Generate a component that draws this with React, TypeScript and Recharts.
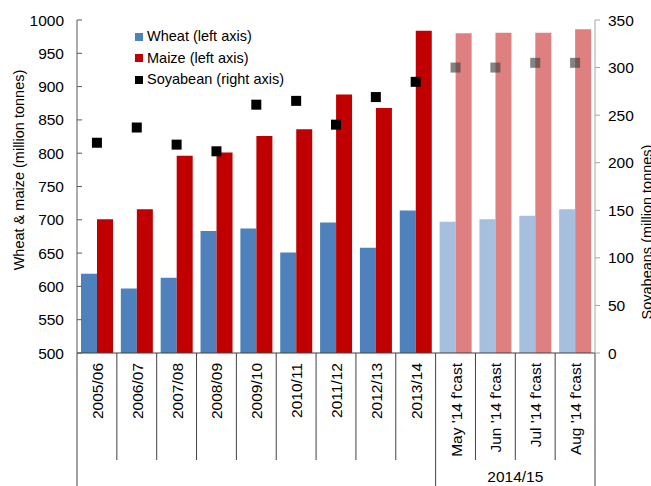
import React from 'react';
import { ComposedChart, Bar, Scatter, XAxis, YAxis, Cell } from 'recharts';

const categories = [
  '2005/06', '2006/07', '2007/08', '2008/09', '2009/10', '2010/11', '2011/12',
  '2012/13', '2013/14', "May '14 f'cast", "Jun '14 f'cast", "Jul '14 f'cast", "Aug '14 f'cast",
];
const wheat = [619, 597, 613, 683, 687, 651, 696, 658, 714, 697, 701, 706, 716];
const maize = [701, 716, 796, 801, 826, 836, 888, 868, 984, 980, 981, 981, 986];
const soyabean = [221, 237, 219, 212, 261, 265, 240, 269, 285, 300, 300, 305, 305];
const forecast = [false, false, false, false, false, false, false, false, false, true, true, true, true];
const forecastGroupLabel = '2014/15';
const leftTicks = [500, 550, 600, 650, 700, 750, 800, 850, 900, 950, 1000];
const rightTicks = [0, 50, 100, 150, 200, 250, 300, 350];

const rows = categories.map((category, i) => ({
  category,
  wheat: wheat[i],
  maize: maize[i],
  soy: soyabean[i],
  forecast: forecast[i],
}));

const W = 651;
const H = 486;
const PLOT_LEFT = 77;
const PLOT_RIGHT = 595;
const PLOT_TOP = 20;
const PLOT_BOTTOM = 353;
const BAND = (PLOT_RIGHT - PLOT_LEFT) / categories.length;
const FONT = '"Liberation Sans", Arial, sans-serif';

const colors = {
  wheat: '#4f81bd',
  wheatF: '#a7bfde',
  maize: '#c00000',
  maizeF: '#df8080',
};

function LeftTick({ x, y, payload }: any) {
  return (
    <g>
      <line x1={x} x2={x + 5} y1={y} y2={y} stroke="#595959" />
      <text x={x - 13} y={y} dy={5.5} textAnchor="end" fontSize={15.5} fill="#000" fontFamily={FONT}>
        {payload.value}
      </text>
    </g>
  );
}

function RightTick({ x, y, payload }: any) {
  return (
    <g>
      <line x1={x} x2={x + 5} y1={y} y2={y} stroke="#a6a6a6" />
      <text x={x + 13} y={y} dy={5.5} textAnchor="start" fontSize={15.5} fill="#000" fontFamily={FONT}>
        {payload.value}
      </text>
    </g>
  );
}

function CategoryTick({ x, y, payload, index }: any) {
  const i = payload.index ?? index;
  const left = x - BAND / 2;
  const longLeft = i === 0 || (forecast[i] && !forecast[i - 1]);
  const isLast = i === categories.length - 1;
  const nF = forecast.filter(Boolean).length;
  return (
    <g>
      <line x1={left} x2={left} y1={y} y2={longLeft ? H : y + 107} stroke="#404040" />
      {isLast && <line x1={x + BAND / 2} x2={x + BAND / 2} y1={y} y2={H} stroke="#404040" />}
      <text
        transform={`translate(${x + 6},${y + 10}) rotate(-90)`}
        textAnchor="end"
        fontSize={15.5}
        fill="#000"
        fontFamily={FONT}
      >
        {payload.value}
      </text>
      {longLeft && i > 0 && (
        <text x={left + (nF * BAND) / 2} y={y + 129} textAnchor="middle" fontSize={15.5} fill="#000" fontFamily={FONT}>
          {forecastGroupLabel}
        </text>
      )}
    </g>
  );
}

function SoyMarker({ cx, cy, payload }: any) {
  const f = payload.forecast;
  return (
    <rect
      x={cx - 5}
      y={cy - 5}
      width={10}
      height={10}
      fill={f ? '#404040' : '#000'}
      fillOpacity={f ? 0.65 : 1}
    />
  );
}

const legendItems = [
  { label: 'Wheat (left axis)', color: colors.wheat },
  { label: 'Maize (left axis)', color: colors.maize },
  { label: 'Soyabean (right axis)', color: '#000' },
];

export default function App() {
  return (
    <div style={{ position: 'absolute', left: 0, top: 0, width: W, height: H, background: '#fff', fontFamily: FONT, overflow: 'hidden' }}>
      <ComposedChart
        width={W}
        height={H}
        data={rows}
        barGap={0}
        margin={{ top: PLOT_TOP, right: 0, left: 0, bottom: 0 }}
      >
        <XAxis
          dataKey="category"
          interval={0}
          height={H - PLOT_BOTTOM}
          tickSize={0}
          tickMargin={0}
          axisLine={{ stroke: '#404040' }}
          tick={<CategoryTick />}
        />
        <YAxis
          yAxisId="left"
          domain={[500, 1000]}
          ticks={leftTicks}
          width={PLOT_LEFT}
          tickSize={0}
          tickMargin={0}
          axisLine={{ stroke: '#595959' }}
          tick={<LeftTick />}
          label={() => (
            <text
              transform={`translate(24,170) rotate(-90)`}
              textAnchor="middle"
              fontSize={14.5}
              fill="#000"
              fontFamily={FONT}
            >
              Wheat &amp; maize (million tonnes)
            </text>
          )}
        />
        <YAxis
          yAxisId="right"
          orientation="right"
          domain={[0, 350]}
          ticks={rightTicks}
          width={W - PLOT_RIGHT}
          tickSize={0}
          tickMargin={0}
          axisLine={{ stroke: '#a6a6a6' }}
          tick={<RightTick />}
          label={() => (
            <text
              transform={`translate(652,232) rotate(-90)`}
              textAnchor="middle"
              fontSize={14.5}
              fill="#000"
              fontFamily={FONT}
            >
              Soyabeans (million tonnes)
            </text>
          )}
        />
        <Bar yAxisId="left" dataKey="wheat" name="Wheat (left axis)" barSize={16} isAnimationActive={false}>
          {rows.map((r, i) => (
            <Cell key={i} fill={r.forecast ? colors.wheatF : colors.wheat} />
          ))}
        </Bar>
        <Bar yAxisId="left" dataKey="maize" name="Maize (left axis)" barSize={16} isAnimationActive={false}>
          {rows.map((r, i) => (
            <Cell key={i} fill={r.forecast ? colors.maizeF : colors.maize} />
          ))}
        </Bar>
        <Scatter yAxisId="right" dataKey="soy" name="Soyabean (right axis)" shape={<SoyMarker />} isAnimationActive={false} />
      </ComposedChart>
      <div style={{ position: 'absolute', left: 135, top: 26, fontSize: 14.5, lineHeight: '21.5px', color: '#000' }}>
        {legendItems.map((it) => (
          <div key={it.label} style={{ display: 'flex', alignItems: 'center', whiteSpace: 'nowrap' }}>
            <span style={{ display: 'inline-block', width: 8, height: 8, background: it.color, marginRight: 4 }} />
            <span>{it.label}</span>
          </div>
        ))}
      </div>
    </div>
  );
}
